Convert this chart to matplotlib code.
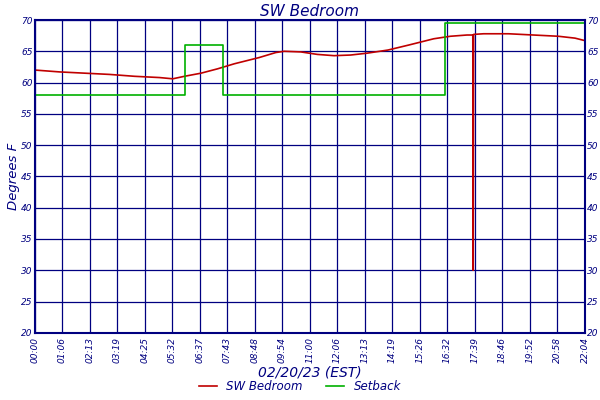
import matplotlib
matplotlib.use("Agg")
import matplotlib.pyplot as plt

NAVY = "#000080"

tick_labels = ["00:00", "01:06", "02:13", "03:19", "04:25", "05:32", "06:37", "07:43",
               "08:48", "09:54", "11:00", "12:06", "13:13", "14:19", "15:26", "16:32",
               "17:39", "18:46", "19:52", "20:58", "22:04"]

# minutes since midnight
bed_t = [0, 60, 120, 180, 240, 300, 332, 360, 400, 440, 480, 540, 580, 600, 640, 680,
         720, 760, 800, 850, 900, 960, 1000, 1040, 1054, 1055, 1056, 1080, 1140, 1200,
         1260, 1300, 1324]
bed_v = [62.0, 61.7, 61.5, 61.3, 61.0, 60.8, 60.6, 61.0, 61.5, 62.2, 63.0, 64.0, 64.8,
         65.0, 64.9, 64.5, 64.3, 64.4, 64.7, 65.2, 66.0, 67.0, 67.4, 67.6, 67.6, 30.0,
         67.7, 67.8, 67.8, 67.6, 67.4, 67.1, 66.7]

set_t = [0, 362, 362, 452, 452, 988, 988, 1324]
set_v = [58, 58, 66, 66, 58, 58, 69.5, 69.5]

fig = plt.figure(figsize=(6, 4), dpi=100)
ax = fig.add_axes([0.058, 0.168, 0.917, 0.782])
ax.plot(bed_t, bed_v, color="#c00000", lw=1.2, label="SW Bedroom")
ax.plot(set_t, set_v, color="#00b000", lw=1.2, label="Setback")

ticks = [i * 1324 / 20 for i in range(21)]
ax.set_xlim(0, 1324)
ax.set_ylim(20, 70)
ax.set_xticks(ticks)
ax.set_xticklabels(tick_labels, rotation=90, fontsize=6.5, color=NAVY, style="italic")
ax.set_yticks(range(20, 71, 5))
ax.tick_params(axis="y", labelsize=6.5, colors=NAVY, labelright=True, right=True,
               length=0, pad=1.5)
ax.tick_params(axis="x", length=0, pad=3)
for lbl in ax.get_yticklabels():
    lbl.set_style("italic")
ax.grid(True, color=NAVY, lw=0.9)
for s in ax.spines.values():
    s.set_color(NAVY)
    s.set_linewidth(1.5)
ax.set_axisbelow(True)

ax.set_title("SW Bedroom", fontsize=11, color=NAVY, style="italic", pad=3)
ax.set_ylabel("Degrees F", fontsize=9.5, color=NAVY, style="italic", labelpad=1)
ax.set_xlabel("02/20/23 (EST)", fontsize=10, color=NAVY, style="italic", labelpad=2)
fig.legend(loc="lower center", ncol=2, frameon=False,
           bbox_to_anchor=(0.5, -0.01), handlelength=1.5, labelcolor=NAVY,
           prop={"style": "italic", "size": 8.5})

fig.savefig("out.png", dpi=100)
